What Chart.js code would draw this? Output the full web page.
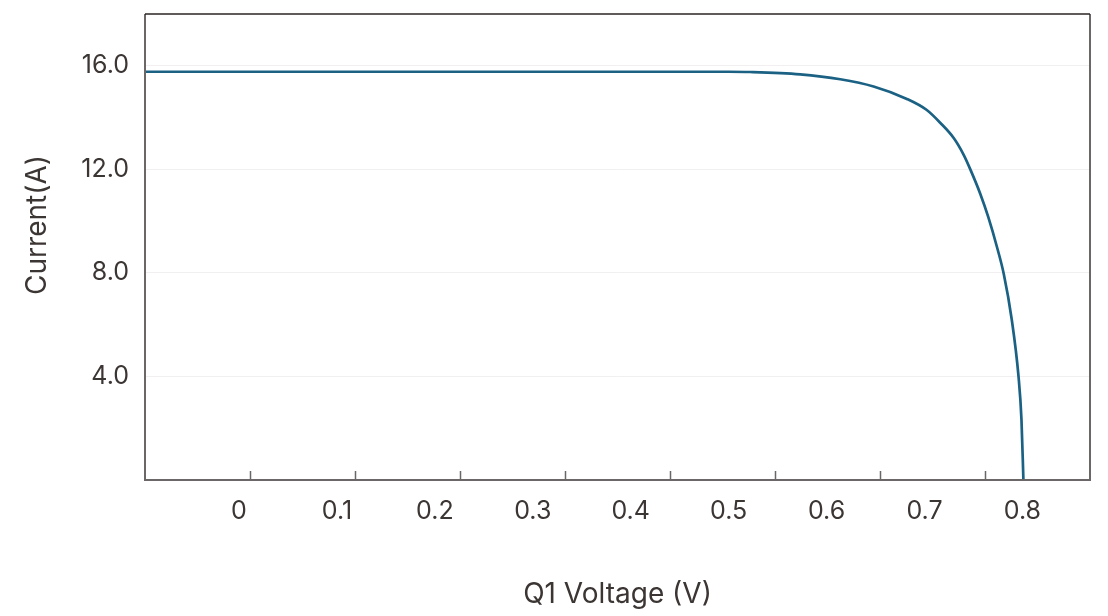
<!DOCTYPE html>
<html>
<head>
<meta charset="utf-8">
<script src="https://cdn.jsdelivr.net/npm/chart.js@4"></script>
<style>
  body { margin: 0; background: #fff; }
  #wrap { width: 1108px; height: 616px; }
</style>
</head>
<body>
<div id="wrap"><canvas id="ivChart"></canvas></div>
<script>
// I-V curve
const voltage = [-0.096, 0.0, 0.1, 0.2, 0.3, 0.4, 0.5, 0.522, 0.573, 0.614, 0.648, 0.682, 0.702, 0.716, 0.730, 0.740, 0.747, 0.757, 0.765, 0.774, 0.781, 0.789, 0.796, 0.799, 0.801];
const current = [15.77, 15.77, 15.77, 15.77, 15.77, 15.77, 15.77, 15.76, 15.67, 15.48, 15.20, 14.72, 14.30, 13.80, 13.20, 12.56, 11.98, 11.05, 10.17, 9.00, 7.95, 6.22, 4.00, 2.35, 0];
const yTicks = [4, 8, 12, 16];
const xTitle = "Q1 Voltage (V)";
const yTitle = "Current(A)";

const textColor = "#3b3533";
const fontFamily = "Inter, 'Noto Sans', sans-serif";

// frame, inner tick marks and the y title
const framePlugin = {
    id: "frame",
    afterDraw(chart) {
        const { ctx, chartArea: a } = chart;
        ctx.save();
        ctx.strokeStyle = "#6b6767";
        ctx.lineWidth = 1.5;
        // tick marks split the bottom into 9 parts, pointing up
        const step = (a.right - a.left) / 9;
        ctx.beginPath();
        for (let k = 1; k < 9; k++) {
            const x = Math.round(a.left + k * step) + 0.5;
            ctx.moveTo(x, a.bottom);
            ctx.lineTo(x, a.bottom - 9);
        }
        ctx.stroke();
        ctx.lineWidth = 2;
        ctx.beginPath();
        ctx.moveTo(a.left, a.top);
        ctx.lineTo(a.left, a.bottom);
        ctx.lineTo(a.right, a.bottom);
        ctx.lineTo(a.right, a.top);
        ctx.stroke();
        ctx.strokeStyle = "#2a2423";
        ctx.lineWidth = 1.5;
        ctx.beginPath();
        ctx.moveTo(a.left, a.top);
        ctx.lineTo(a.right, a.top);
        ctx.stroke();

        ctx.translate(38, 225);
        ctx.rotate(-Math.PI / 2);
        ctx.fillStyle = textColor;
        ctx.font = "28px " + fontFamily;
        ctx.textAlign = "center";
        ctx.textBaseline = "middle";
        ctx.fillText(yTitle, 0, 0);
        ctx.restore();
    }
};

const ctx = document.getElementById("ivChart").getContext("2d");

new Chart(ctx, {
    type: "line",
    data: {
        datasets: [{
            data: voltage.map((v, i) => ({ x: v, y: current[i] })),
            borderColor: "#1b6184",
            borderWidth: 2.7,
            pointRadius: 0,
            fill: false,
            cubicInterpolationMode: "monotone"
        }]
    },
    options: {
        responsive: true,
        maintainAspectRatio: false,
        animation: false,
        layout: { padding: { top: 14, right: 18, left: 0, bottom: 0 } },
        plugins: {
            legend: { display: false },
            tooltip: { enabled: false }
        },
        scales: {
            x: {
                type: "linear",
                min: -0.096,
                max: 0.869,
                afterFit: (s) => { s.height = 136; s.paddingLeft = 0; s.paddingRight = 0; },
                grid: { display: false, drawTicks: false },
                border: { display: false },
                ticks: {
                    stepSize: 0.1,
                    includeBounds: false,
                    padding: 16,
                    color: textColor,
                    font: { family: fontFamily, size: 25 },
                    maxRotation: 0,
                    callback: (v) => Math.abs(v) < 1e-9 ? "0" : v.toFixed(1)
                },
                title: {
                    display: true,
                    text: xTitle,
                    color: textColor,
                    font: { family: fontFamily, size: 28 },
                    padding: { top: 0, bottom: 5 }
                }
            },
            y: {
                min: 0,
                max: 18,
                afterFit: (s) => { s.width = 145; s.paddingTop = 0; s.paddingBottom = 0; },
                afterBuildTicks: (s) => { s.ticks = [0].concat(yTicks).map(v => ({ value: v })); },
                grid: { color: "#f1efef", lineWidth: 1, drawTicks: false },
                border: { display: false },
                ticks: {
                    padding: 16,
                    color: textColor,
                    font: { family: fontFamily, size: 25 },
                    callback: (v) => v === 0 ? "" : v.toFixed(1)
                }
            }
        }
    },
    plugins: [framePlugin]
});
</script>
</body>
</html>
